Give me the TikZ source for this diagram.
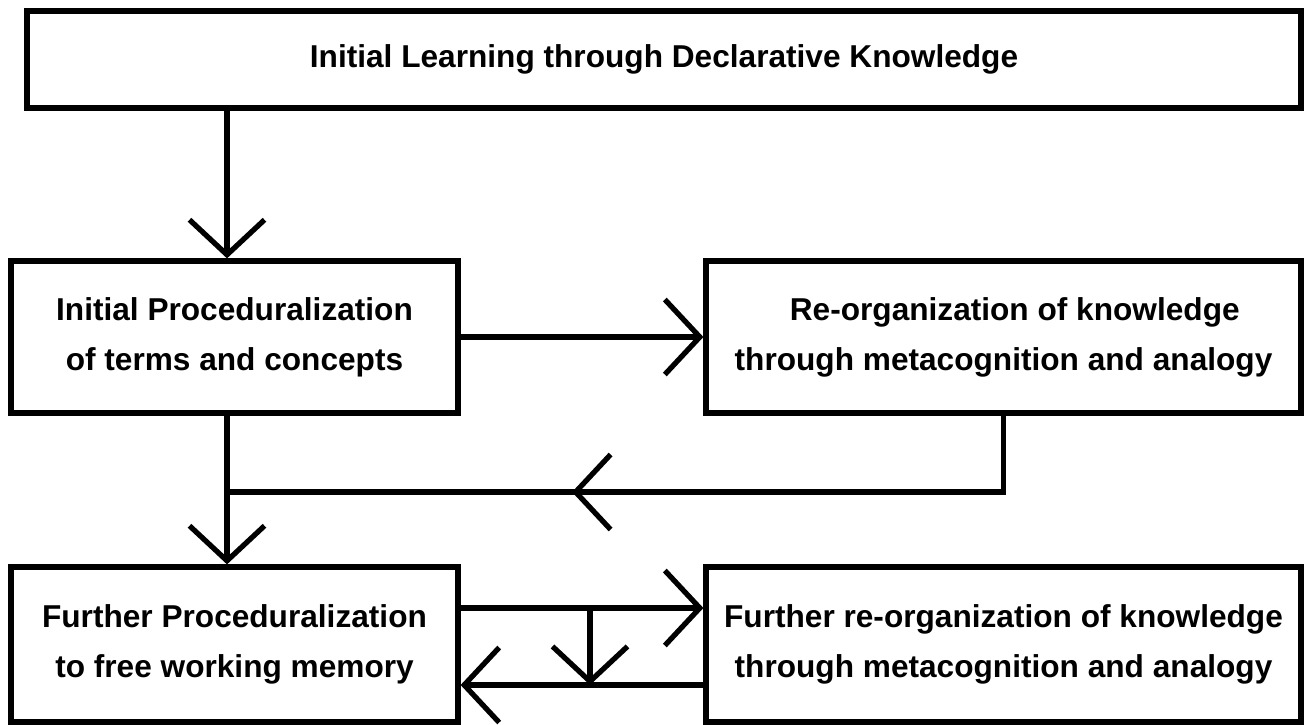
\documentclass[tikz,border=0pt]{standalone}
\usepackage{fontspec}
\setmainfont{Liberation Sans}
\usetikzlibrary{arrows.meta}
\tikzset{
  stage/.style={draw, line width=3pt, inner sep=0pt, align=center,
    font=\bfseries\fontsize{18}{28.5}\selectfont},
  flow/.style={line width=3pt, -{Straight Barb[length=0.7cm,width=1.5cm]}},
}
\begin{document}
\begin{tikzpicture}[x=0.02cm, y=-0.02cm]
  \useasboundingbox (0,0) rectangle (1311,724);
  \draw
    (664,59.5) node[stage, minimum width=25.48cm, minimum height=1.94cm] (learn){Initial Learning through Declarative Knowledge}
    (234.5,337) node[stage, minimum width=8.94cm, minimum height=3.04cm] (proc){Initial Proceduralization\\of terms and concepts}
    (1003.5,337) node[stage, minimum width=11.9cm, minimum height=3.04cm] (reorg){\hspace*{0.45cm}Re-organization of knowledge\\through metacognition and analogy}
    (234.5,644.5) node[stage, minimum width=8.94cm, minimum height=3.1cm] (fproc){Further Proceduralization\\to free working memory}
    (1003.5,644.5) node[stage, minimum width=11.9cm, minimum height=3.1cm] (freorg){Further re-organization of knowledge\\through metacognition and analogy};
  \coordinate (spine) at (227,0);
  \coordinate (join) at (227,492);
  \coordinate (back) at (572,492);
  \coordinate (upper) at (0,608);
  \coordinate (lower) at (0,685);
  \coordinate (drop) at (590,0);
  \draw[line width=3pt] (reorg.south) |- (join);
  \begin{scope}[flow]
    \draw (spine |- learn.south) to (spine |- proc.north);
    \draw (proc) to (reorg);
    \draw (reorg.south |- join) to (back);
    \draw (spine |- proc.south) to (spine |- fproc.north);
    \draw (fproc.east |- upper) to (freorg.west |- upper);
    \draw (freorg.west |- lower) to (fproc.east |- lower);
    \draw (drop |- upper) to (drop |- lower);
  \end{scope}
\end{tikzpicture}
\end{document}
